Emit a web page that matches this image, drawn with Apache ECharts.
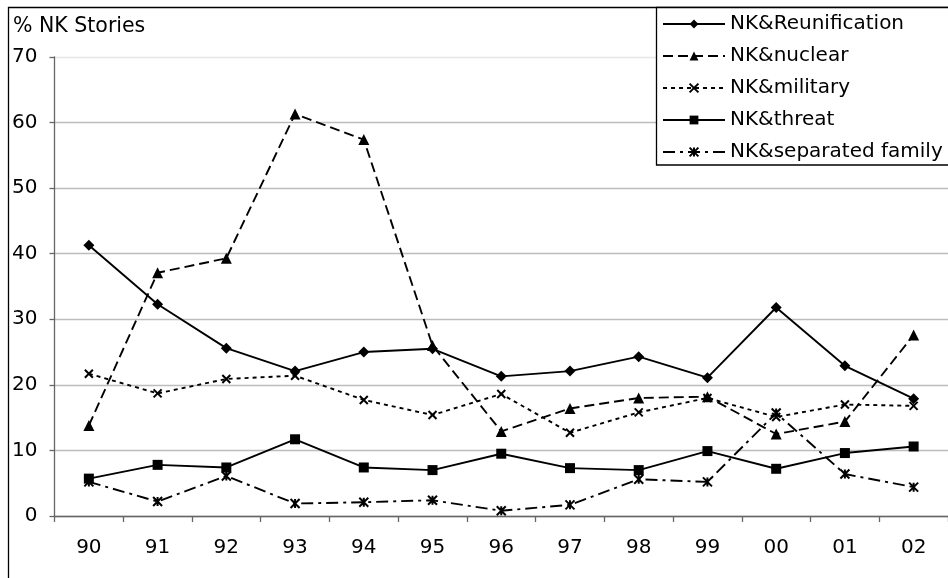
<!DOCTYPE html>
<html>
<head>
<meta charset="utf-8">
<script src="https://cdn.jsdelivr.net/npm/echarts@6/dist/echarts.min.js"></script>
<style>
html,body{margin:0;padding:0;background:#fff;}
#chart{width:948px;height:578px;}
</style>
</head>
<body>
<div id="chart"></div>
<script>
const categories = ['90','91','92','93','94','95','96','97','98','99','00','01','02'];
const reunification = [41.3, 32.3, 25.6, 22.1, 25.0, 25.5, 21.3, 22.1, 24.3, 21.1, 31.8, 22.9, 17.9];
const nuclear       = [13.8, 37.1, 39.3, 61.3, 57.4, 26.0, 12.9, 16.4, 18.0, 18.2, 12.5, 14.4, 27.6];
const military      = [21.7, 18.7, 20.9, 21.4, 17.7, 15.4, 18.6, 12.7, 15.8, 18.0, 15.1, 17.0, 16.8];
const threat        = [5.7, 7.8, 7.4, 11.7, 7.4, 7.0, 9.5, 7.3, 7.0, 9.9, 7.2, 9.6, 10.6];
const separated     = [5.2, 2.2, 6.1, 1.9, 2.1, 2.4, 0.8, 1.7, 5.6, 5.2, 15.7, 6.4, 4.4];
const yTicks = [0, 10, 20, 30, 40, 50, 60, 70];

const FONT = 'DejaVu Sans';
const X_PATH = 'path://M0 0L10 10M10 0L0 10';
const AST_PATH = 'path://M0 0L10 10M10 0L0 10M5 0L5 10';

function mk(name, data, symbol, size, dash, strokeSym) {
  return {
    name: name,
    type: 'line',
    data: data,
    symbol: symbol,
    symbolSize: size,
    showAllSymbol: true,
    lineStyle: { color: '#000', width: 1.9, type: dash },
    itemStyle: strokeSym
      ? { color: 'rgba(0,0,0,0)', borderColor: '#000', borderWidth: 2 }
      : { color: '#000', borderColor: '#000', borderWidth: 0 },
    emphasis: { disabled: true },
    animation: false
  };
}

const chart = echarts.init(document.getElementById('chart'));
chart.setOption({
  animation: false,
  backgroundColor: '#fff',
  textStyle: { fontFamily: FONT, color: '#000' },
  graphic: [
    { type: 'rect', z: 0, shape: { x: 8.5, y: 7.5, width: 1000, height: 700 },
      style: { fill: 'none', stroke: '#000', lineWidth: 1.3 } },
    { type: 'rect', z: 5, shape: { x: 656.5, y: 7.5, width: 400, height: 157.5 },
      style: { fill: '#fff', stroke: '#000', lineWidth: 1.3 } },
    { type: 'text', z: 6, left: 13, top: 16,
      style: { text: '% NK Stories', font: '20.5px "DejaVu Sans"', fill: '#000' } }
  ],
  legend: {
    orient: 'vertical',
    left: 662,
    top: 14,
    padding: 0,
    itemGap: 12,
    itemWidth: 62,
    itemHeight: 11,
    z: 10,
    textStyle: { fontFamily: FONT, fontSize: 20, color: '#000' },
    data: ['NK&Reunification','NK&nuclear','NK&military','NK&threat','NK&separated family']
  },
  grid: { left: 54.5, right: 0, top: 57, bottom: 62, containLabel: false },
  xAxis: {
    type: 'category',
    data: categories,
    boundaryGap: true,
    axisLine: { lineStyle: { color: '#666', width: 1.3 } },
    axisTick: { show: true, alignWithLabel: false, length: 6, lineStyle: { color: '#666', width: 1.3 } },
    axisLabel: { fontFamily: FONT, fontSize: 20, color: '#000', margin: 22 },
    splitLine: { show: false }
  },
  yAxis: {
    type: 'value',
    min: yTicks[0],
    max: yTicks[yTicks.length - 1],
    interval: 10,
    axisLine: { show: true, lineStyle: { color: '#666', width: 1.3 } },
    axisTick: { show: true, length: 5, lineStyle: { color: '#666', width: 1.3 } },
    axisLabel: { fontFamily: FONT, fontSize: 20, color: '#000', margin: 17 },
    splitLine: { show: true, lineStyle: { color: ['#bdbdbd','#bdbdbd','#bdbdbd','#bdbdbd','#bdbdbd','#bdbdbd','#bdbdbd','#e6e6e6'], width: 1.3 } }
  },
  series: [
    mk('NK&Reunification', reunification, 'diamond', 11, 'solid', false),
    mk('NK&nuclear', nuclear, 'triangle', 11, [10, 5], false),
    mk('NK&military', military, X_PATH, 8, [4, 4], true),
    mk('NK&threat', threat, 'rect', 10, 'solid', false),
    mk('NK&separated family', separated, AST_PATH, 9, [12, 5, 3, 5], true)
  ]
});
</script>
</body>
</html>
